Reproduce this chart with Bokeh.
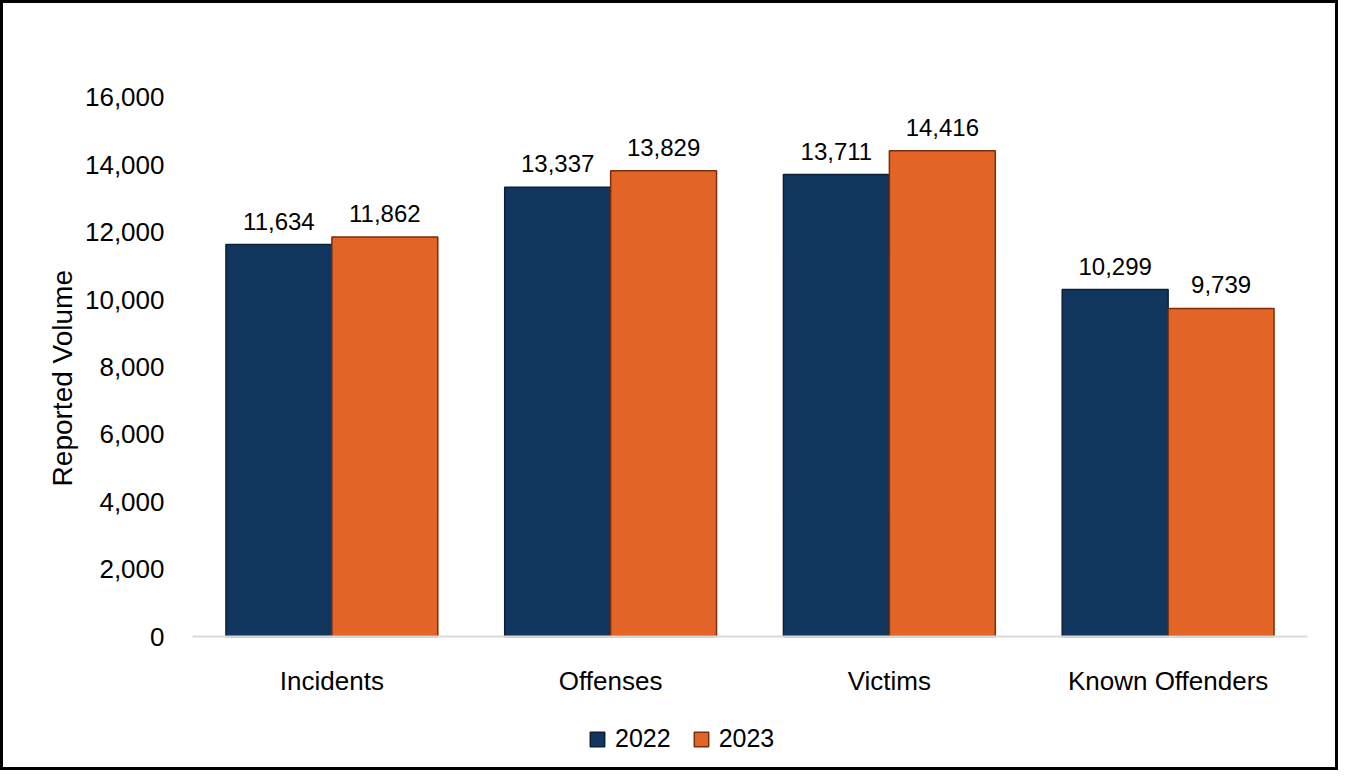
from bokeh.plotting import figure
from bokeh.models import ColumnDataSource, FactorRange, Range1d, LabelSet, Legend, LegendItem, NumeralTickFormatter, FixedTicker
from bokeh.core.properties import value
from bokeh.transform import dodge
from bokeh.embed import file_html
from bokeh.resources import INLINE

categories = ["Incidents", "Offenses", "Victims", "Known Offenders"]
series_names = ["2022", "2023"]
values_2022 = [11634, 13337, 13711, 10299]
values_2023 = [11862, 13829, 14416, 9739]
y_ticks = [0, 2000, 4000, 6000, 8000, 10000, 12000, 14000, 16000]

colors = ["#12375F", "#E26427"]
edge_colors = ["#0A2038", "#7A2E0C"]
FONT = "Liberation Sans"

src = ColumnDataSource(dict(
    cat=categories,
    v22=values_2022,
    v23=values_2023,
    l22=[f"{v:,}" for v in values_2022],
    l23=[f"{v:,}" for v in values_2023],
))

# extra room below zero holds the category labels and the legend inside the frame
p = figure(x_range=FactorRange(*categories), y_range=Range1d(-3740, 16534),
           output_backend="svg", toolbar_location=None,
           min_border_left=189, min_border_right=28, min_border_top=76, min_border_bottom=5)
p.frame_width = 1115
p.frame_height = 683
p.styles = {"border": "3px solid black", "box-sizing": "border-box"}
p.outline_line_color = None
p.grid.grid_line_color = None

r1 = p.vbar(x=dodge("cat", -0.19, range=p.x_range), top="v22", width=0.38, source=src,
            fill_color=colors[0], line_color=edge_colors[0], line_width=1.5)
r2 = p.vbar(x=dodge("cat", 0.19, range=p.x_range), top="v23", width=0.38, source=src,
            fill_color=colors[1], line_color=edge_colors[1], line_width=1.5)

for col, lab, off in [("v22", "l22", -0.19), ("v23", "l23", 0.19)]:
    ls = LabelSet(x=dodge("cat", off, range=p.x_range), y=col, text=lab, source=src,
                  text_align="center", text_baseline="alphabetic", y_offset=15,
                  text_font=value(FONT), text_font_size="24px", text_color="#000000")
    p.add_layout(ls)

p.yaxis.ticker = FixedTicker(ticks=y_ticks)
p.yaxis.formatter = NumeralTickFormatter(format="0,0")
p.yaxis.axis_line_color = None
p.yaxis.major_tick_line_color = None
p.yaxis.minor_tick_line_color = None
p.yaxis.major_label_text_font = FONT
p.yaxis.major_label_text_font_size = "26px"
p.yaxis.major_label_text_color = "#000000"
p.yaxis.major_label_standoff = 22
p.yaxis.axis_label = "\u00a0" * 11 + "Reported Volume"
p.yaxis.axis_label_text_font = FONT
p.yaxis.axis_label_text_font_size = "28px"
p.yaxis.axis_label_text_font_style = "normal"
p.yaxis.axis_label_text_color = "#000000"
p.yaxis.axis_label_standoff = 4

p.xaxis.fixed_location = 0
p.xaxis.axis_line_color = "#D9D9D9"
p.xaxis.axis_line_width = 2
p.xaxis.major_tick_line_color = None
p.xaxis.minor_tick_line_color = None
p.xaxis.major_label_text_font = FONT
p.xaxis.major_label_text_font_size = "26px"
p.xaxis.major_label_text_color = "#000000"
p.xaxis.major_label_standoff = 23

legend = Legend(items=[LegendItem(label=series_names[0], renderers=[r1]),
                       LegendItem(label=series_names[1], renderers=[r2])],
                orientation="horizontal", location=(396, 9),
                label_text_font=FONT, label_text_font_size="25px", label_text_color="#000000",
                glyph_width=18, glyph_height=18, spacing=21, label_standoff=9,
                border_line_color=None, background_fill_alpha=0, margin=0, padding=4)
p.add_layout(legend, "center")

open("out.html", "w").write(file_html(p, INLINE))
